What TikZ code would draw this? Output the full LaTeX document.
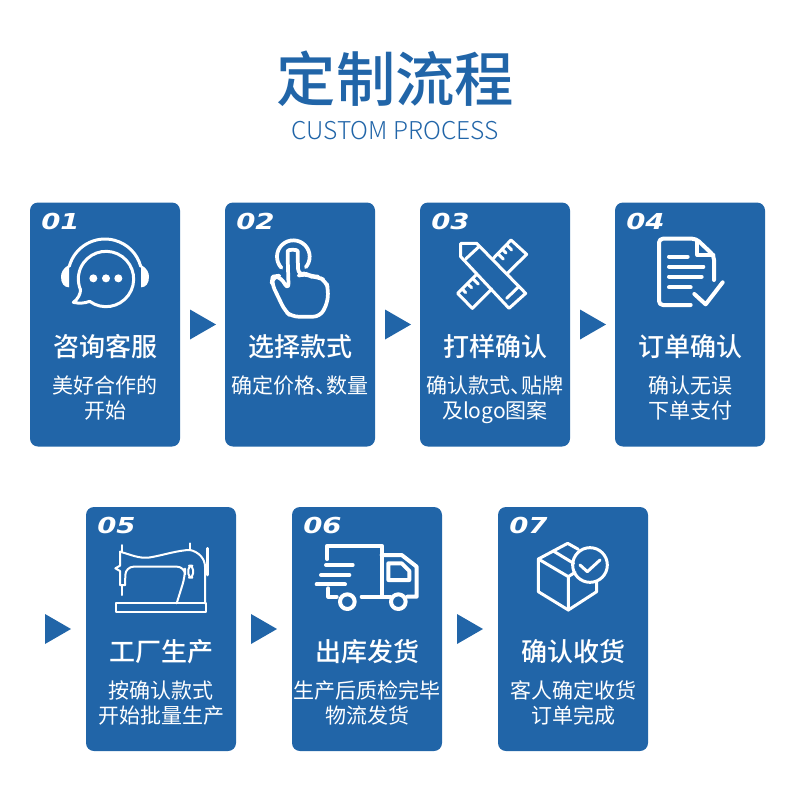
\documentclass[tikz,border=0pt]{standalone}
\usepackage{fontspec}
\usepackage{xcolor}
\usepackage{tikz}
\usetikzlibrary{positioning,shapes.geometric}
\setmainfont{Noto Sans CJK SC}
\newfontfamily\headfont{Noto Sans CJK SC Medium}
\newfontfamily\lightfont{Noto Sans CJK SC Light}
\newfontfamily\numfont[FakeStretch=1.25]{DejaVu Sans}
\definecolor{cardblue}{HTML}{2165A8}

\begin{document}
\begin{tikzpicture}[
  x=0.75pt, y=-0.75pt, outer sep=0pt,
  card/.style={rectangle, rounded corners=6pt, fill=cardblue, minimum width=112.5pt,
               minimum height=183pt, inner sep=0pt},
  pointer/.style={isosceles triangle, isosceles triangle stretches, fill=cardblue,
                  minimum width=22.5pt, minimum height=19.5pt, inner sep=0pt},
  stepnum/.style={anchor=west, inner sep=0pt, text=white, xshift=8.5pt, yshift=-14.2pt,
                  font=\numfont\bfseries\itshape\fontsize{16.5}{18}\selectfont},
  stepname/.style={inner sep=0pt, text=white, yshift=-16.9pt,
                   font=\headfont\fontsize{19.5}{24}\selectfont},
  steptext/.style={anchor=north, inner sep=0pt, text=white, align=center, yshift=-38.75pt,
                   font=\fontsize{15.75}{18.75}\selectfont},
  icon/.style={x=0.25pt, y=-0.25pt, draw=white, line width=2.25pt, line join=round, line cap=round},
]
  \useasboundingbox (0,0) rectangle (790,800);

  % Heading
  \node[inner sep=0pt, text=cardblue, font=\headfont\fontsize{44.5}{50}\selectfont] (head) at (395.5,78.5) {定制流程};
  \node[inner sep=0pt, text=cardblue, font=\lightfont\fontsize{18.4}{24}\selectfont] (subhead) at (395,131) {CUSTOM PROCESS};

  % Cards, first row
  \node[card] (card01) at (105,324.5) {};
  \node[pointer, right=7.5pt of card01] (arrow01) {};
  \node[card, right=33.75pt of card01] (card02) {};
  \node[pointer, right=7.5pt of card02] (arrow02) {};
  \node[card, right=33.75pt of card02] (card03) {};
  \node[pointer, right=7.5pt of card03] (arrow03) {};
  \node[card, right=33.75pt of card03] (card04) {};

  % Cards, second row
  \node[card] (card05) at (161,629) {};
  \node[pointer, left=11.25pt of card05] (arrow04) {};
  \node[pointer, right=11.25pt of card05] (arrow05) {};
  \node[card, right=42pt of card05] (card06) {};
  \node[pointer, right=11.25pt of card06] (arrow06) {};
  \node[card, right=42pt of card06] (card07) {};

  % Numbers
  \node[stepnum] (num01) at (card01.north west) {01};
  \node[stepnum] (num02) at (card02.north west) {02};
  \node[stepnum] (num03) at (card03.north west) {03};
  \node[stepnum] (num04) at (card04.north west) {04};
  \node[stepnum] (num05) at (card05.north west) {05};
  \node[stepnum] (num06) at (card06.north west) {06};
  \node[stepnum] (num07) at (card07.north west) {07};

  % Names
  \node[stepname] (name01) at (card01.center) {咨询客服};
  \node[stepname] (name02) at (card02.center) {选择款式};
  \node[stepname] (name03) at (card03.center) {打样确认};
  \node[stepname] (name04) at (card04.center) {订单确认};
  \node[stepname] (name05) at (card05.center) {工厂生产};
  \node[stepname] (name06) at (card06.center) {出库发货};
  \node[stepname] (name07) at (card07.center) {确认收货};

  % Descriptions
  \node[steptext] (text01) at (card01.center) {美好合作的\\开始};
  \node[steptext] (text02) at (card02.center) {确定价格、\kern-0.5em 数量};
  \node[steptext] (text03) at (card03.center) {确认款式、\kern-0.5em 贴牌\\及logo图案};
  \node[steptext] (text04) at (card04.center) {确认无误\\下单支付};
  \node[steptext] (text05) at (card05.center) {按确认款式\\开始批量生产};
  \node[steptext] (text06) at (card06.center) {生产后质检完毕\\物流发货};
  \node[steptext] (text07) at (card07.center) {客人确定收货\\订单完成};

  % Headset
  \begin{scope}[shift={(50,205)}, icon]
    \draw (165,213) ++(195:111) arc[start angle=195, end angle=345, radius=111];
    \fill[white] (57,180) .. controls (40,188) and (33,203) .. (33,215) .. controls (33,235) and (42,247) .. (57,247) -- cycle;
    \fill[white] (273,180) .. controls (290,188) and (297,203) .. (297,215) .. controls (297,235) and (288,247) .. (273,247) -- cycle;
    \draw (168,222) ++(126:83) arc[start angle=126, end angle=-203, radius=83]
      .. controls (92,265) and (84,283) .. (70,292) .. controls (88,296) and (103,295) .. (119,289);
    \fill[white] (130,220) circle (12) (168,220) circle (12) (205,220) circle (12);
  \end{scope}

  % Pointing hand
  \begin{scope}[shift={(250,205)}, icon, line width=2.8pt]
    \draw (130,155) ++(137:49) arc[start angle=137, end angle=400, radius=49];
    \draw[rounded corners=5pt] (116,255) -- (113,158) .. controls (113,133) and (143,133) .. (143,158) -- (145,212)
      -- (165,205) -- (185,215) -- (203,215) -- (228,228) -- (235,255) -- (232,295) -- (210,335)
      -- (125,335) -- (105,318) -- (65,235) -- (68,215) -- (88,212) -- cycle;
  \end{scope}

  % Pencil and ruler
  \begin{scope}[shift={(445,225)}, icon]
    \draw (47,55) -- (95,55) -- (242,205) -- (192,250) -- (47,95) -- cycle;
    \draw (62,102) -- (102,65);
    \draw (185,220) -- (221,185);
    \draw (145,100) -- (198,45) -- (245,88) -- (187,145);
    \draw (95,148) -- (38,205) -- (82,250) -- (140,192);
    \draw (185,60) -- (200,75) (172,73) -- (183,84) (160,87) -- (175,102);
    \draw (52,192) -- (62,203) (68,177) -- (80,188) (85,162) -- (100,177);
  \end{scope}

  % Document with tick
  \begin{scope}[shift={(640,225)}, icon, line width=3pt]
    \draw[rounded corners=3pt] (152,240) -- (57,240) -- (57,41) -- (168,41) -- (222,92) -- (222,165);
    \draw (172,48) -- (172,90) -- (220,90);
    \draw (87,95) -- (143,95) (87,125) -- (190,125) (87,155) -- (185,155) (87,187) -- (152,187);
    \draw (163,207) -- (197,238) -- (248,172);
  \end{scope}

  % Sewing machine
  \begin{scope}[shift={(105,535)}, icon, line width=1.5pt]
    \draw (50,30) -- (50,50) (255,25) -- (255,45);
    \draw (45,50) .. controls (80,60) and (100,70) .. (130,68) .. controls (170,62) and (220,45) .. (255,45)
      .. controls (280,50) and (300,70) .. (300,95) -- (300,205);
    \draw (45,50) -- (45,92) -- (31,100) -- (45,108) -- (45,150) -- (60,150);
    \draw (50,150) -- (50,180);
    \draw[rounded corners=6pt] (60,150) -- (62,95) -- (240,95) -- (240,125) -- (215,205);
    \draw[line width=2pt] (308,40) -- (308,120);
    \draw[rounded corners=3pt] (250,92) rectangle (264,128);
    \draw (32,205) rectangle (302,232);
  \end{scope}

  % Truck
  \begin{scope}[shift={(310,535)}, icon, line width=3pt]
    \draw (52,72) -- (52,32) -- (215,32) -- (215,185);
    \draw (215,60) -- (275,60) -- (320,95) -- (320,185) -- (292,185);
    \draw (235,85) -- (275,85) -- (298,108) -- (298,135) -- (235,135) -- cycle;
    \draw (112,200) circle (22) (265,200) circle (22);
    \draw (155,185) -- (240,185);
    \draw (55,160) -- (55,185) -- (80,185);
    \draw (48,90) -- (128,90) (33,120) -- (118,120) (20,148) -- (105,148);
  \end{scope}

  % Parcel with tick
  \begin{scope}[shift={(525,535)}, icon]
    \draw (160,43) -- (128,25) -- (40,72) -- (40,170) -- (130,225) -- (215,170) -- (215,140);
    \draw (40,72) -- (130,125) -- (130,225);
    \draw (130,125) -- (150,112);
    \draw (85,48) -- (146,85);
    \draw (195,90) circle (52);
    \draw (165,90) -- (187,110) -- (225,75);
  \end{scope}
\end{tikzpicture}
\end{document}
